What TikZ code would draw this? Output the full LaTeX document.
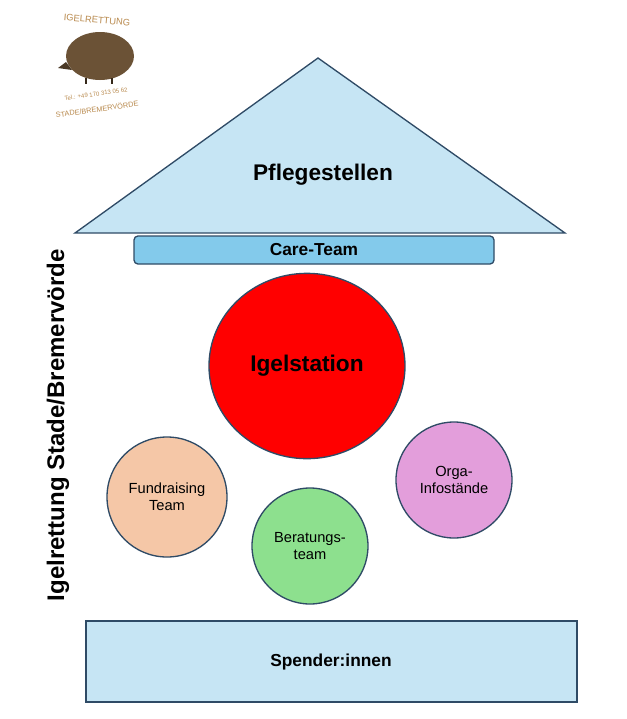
\documentclass[tikz,border=0pt]{standalone}
\usepackage{fontspec}
\setmainfont{Liberation Sans}
\usetikzlibrary{shapes.geometric}
\definecolor{skyfill}{HTML}{C6E5F4}
\definecolor{careblue}{HTML}{83CAEB}
\definecolor{outline}{HTML}{2F4B66}
\definecolor{peach}{HTML}{F5C7A7}
\definecolor{mint}{HTML}{8DE08E}
\definecolor{orchid}{HTML}{E39EDB}
\definecolor{tan}{HTML}{B98A4E}
\definecolor{quill}{HTML}{6B5236}
\begin{document}
\begin{tikzpicture}[x=0.75pt,y=-0.75pt]
\tikzset{shape line/.style = {draw = outline, line width = 1pt},
  team/.style = {circle, shape line, inner sep = 0pt, font = \fontsize{11}{13}\selectfont, align = center}}
\useasboundingbox (0,0) rectangle (626,719);
% -----------------------------------
% Logo
\fill[white] (40,4) rectangle (157,120);
\node[text = tan, font = \fontsize{7}{8}\selectfont, rotate = -5] (logotop) at (97,20) {IGELRETTUNG};
\fill[quill] (100,56) ellipse (34 and 24);
\fill[quill!70!black] (66,62) -- (58,68) -- (72,70) -- cycle;
\draw[quill!50!black, line width = 1.5pt] (86,78) -- (86,84) (112,78) -- (112,84);
\node[text = tan, font = \fontsize{4.5}{5}\selectfont, rotate = 8, inner sep = 0pt] (logotel) at (96,94) {Tel.: +49 170 313 05 62};
\node[text = tan, font = \fontsize{5.5}{6}\selectfont, rotate = 8, inner sep = 0pt] (logocity) at (97,109) {STADE/BREMERVÖRDE};
% -----------------------------------
% Roof
\draw[shape line, fill = skyfill] (318,58) -- (565,233) -- (75,233) -- cycle;
\node[font = \bfseries\fontsize{17}{20}\selectfont] (pflege) at (323,175) {Pflegestellen};
\draw[shape line, fill = careblue, rounded corners = 3pt] (134,236) rectangle (494,264);
\node[font = \bfseries\fontsize{13}{15}\selectfont] (care) at (314,250) {Care-Team};
% -----------------------------------
% Station and teams
\node[ellipse, shape line, fill = red, minimum width = 147pt, minimum height = 139pt,
  inner sep = 0pt, font = \bfseries\fontsize{17}{20}\selectfont] (station) at (307,366) {Igelstation};
\node[team, fill = peach, minimum size = 90pt] (fund) at (167,497) {Fundraising\\Team};
\node[team, fill = mint, minimum size = 87pt] (berat) at (310,546) {Beratungs-\\team};
\node[team, fill = orchid, minimum size = 87pt] (orga) at (454,480) {Orga-\\Infostände};
% -----------------------------------
% Base
\draw[shape line, fill = skyfill] (86,621) rectangle (577,702);
\node[font = \bfseries\fontsize{13}{15}\selectfont] (spender) at (331,662) {Spender:innen};
\node[rotate = 90, font = \bfseries\fontsize{18}{21}\selectfont] (name) at (58,425) {Igelrettung Stade/Bremervörde};
\end{tikzpicture}
\end{document}
